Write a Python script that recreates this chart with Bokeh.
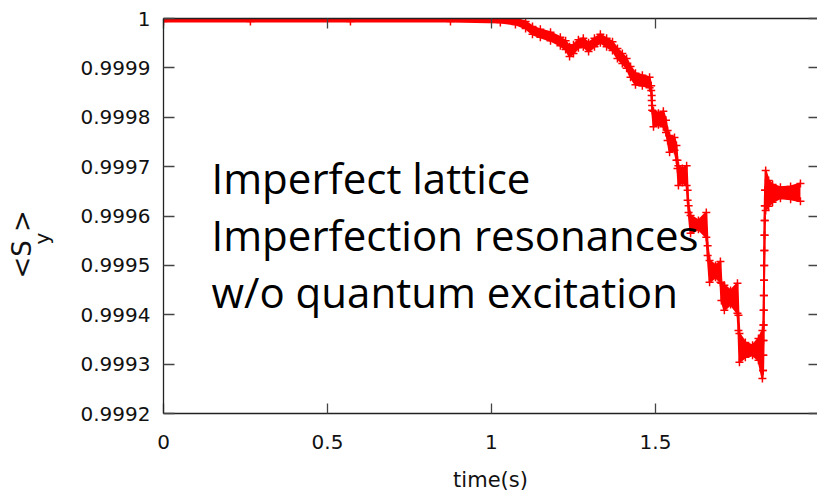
import math
from bokeh.plotting import figure
from bokeh.models import Range1d, FixedTicker, LinearAxis, Label, Title, ColumnDataSource
from bokeh.embed import file_html
from bokeh.resources import INLINE

# ---- data (time in s, <S_y> upper / lower envelope of the oscillating band)
time_s = [0.000, 0.265, 0.570, 0.875, 1.027, 1.073, 1.104, 1.125, 1.149, 1.180,
          1.210, 1.226, 1.238, 1.250, 1.265, 1.280, 1.296, 1.314, 1.332, 1.351,
          1.369, 1.384, 1.399, 1.412, 1.424, 1.439, 1.460, 1.482,
          1.4870, 1.4885, 1.4900,
          1.494, 1.509, 1.524, 1.532, 1.537, 1.543, 1.558, 1.564, 1.567, 1.570,
          1.582, 1.595, 1.598, 1.601, 1.607, 1.631, 1.655, 1.659, 1.665, 1.683,
          1.698, 1.701, 1.710, 1.729, 1.750, 1.753, 1.756, 1.774, 1.796, 1.814,
          1.826,
          1.8280, 1.8285, 1.8290, 1.8295, 1.8300, 1.8305, 1.8310, 1.8315, 1.8320,
          1.8325, 1.8330, 1.8335, 1.8340,
          1.836, 1.845, 1.857, 1.881, 1.912, 1.942]
sy_upper = [1.000004, 1.000004, 1.000004, 1.000004, 1.000002, 1.000000, 0.999994, 0.999984, 0.999978, 0.999972,
            0.999962, 0.999955, 0.999943, 0.999947, 0.999957, 0.999960, 0.999951, 0.999960, 0.999968, 0.999960,
            0.999953, 0.999939, 0.999929, 0.999919, 0.999903, 0.999889, 0.999885, 0.999881,
            0.999864, 0.999844, 0.999824,
            0.999812, 0.999808, 0.999812, 0.999794, 0.999773, 0.999763, 0.999759, 0.999743, 0.999713, 0.999702,
            0.999696, 0.999702, 0.999652, 0.999621, 0.999601, 0.999591, 0.999607, 0.999540, 0.999510, 0.999500,
            0.999508, 0.999464, 0.999460, 0.999449, 0.999464, 0.999399, 0.999362, 0.999344, 0.999338, 0.999352,
            0.999368,
            0.999287, 0.999318, 0.999348, 0.999379, 0.999409, 0.999439, 0.999470, 0.999500, 0.999530,
            0.999561, 0.999591, 0.999621, 0.999652,
            0.999692, 0.999672, 0.999664, 0.999658, 0.999660, 0.999666]
sy_lower = [0.999994, 0.999994, 0.999994, 0.999994, 0.999992, 0.999988, 0.999980, 0.999968, 0.999962, 0.999955,
            0.999945, 0.999937, 0.999923, 0.999929, 0.999941, 0.999943, 0.999933, 0.999943, 0.999951, 0.999943,
            0.999935, 0.999919, 0.999909, 0.999899, 0.999881, 0.999866, 0.999864, 0.999860,
            0.999854, 0.999834, 0.999814,
            0.999781, 0.999785, 0.999781, 0.999769, 0.999753, 0.999729, 0.999733, 0.999713, 0.999696, 0.999662,
            0.999668, 0.999662, 0.999632, 0.999607, 0.999565, 0.999573, 0.999557, 0.999520, 0.999466, 0.999476,
            0.999466, 0.999429, 0.999409, 0.999421, 0.999403, 0.999368, 0.999304, 0.999314, 0.999318, 0.999308,
            0.999271,
            0.999287, 0.999318, 0.999348, 0.999379, 0.999409, 0.999439, 0.999470, 0.999500, 0.999530,
            0.999561, 0.999591, 0.999621, 0.999652,
            0.999611, 0.999620, 0.999628, 0.999636, 0.999634, 0.999630]

x_ticks = [0, 0.5, 1, 1.5]
x_tick_labels = ["0", "0.5", "1", "1.5"]
y_ticks = [0.9992, 0.9993, 0.9994, 0.9995, 0.9996, 0.9997, 0.9998, 0.9999, 1.0]
y_tick_labels = ["0.9992", "0.9993", "0.9994", "0.9995", "0.9996", "0.9997", "0.9998", "0.9999", "1"]
x_title = "time(s)"
y_title_main = "<S\u00a0>"
y_title_sub = "y"
note_lines = ["Imperfect lattice", "Imperfection resonances", "w/o quantum excitation"]

# ---- layout
W, H = 817, 495
L, T, B = 163, 18, 82
x0, x1 = 0.0, 1.994
y0, y1 = 0.9992, 1.0
fw, fh = W - L, H - T - B


def dx(px):
    return x0 + (px - L) / fw * (x1 - x0)


def dy(py):
    return y1 - (py - T) / fh * (y1 - y0)


p = figure(width=W, height=H, output_backend="svg", toolbar_location=None,
           x_range=Range1d(x0, x1), y_range=Range1d(y0, y1),
           min_border_left=L, min_border_right=0, min_border_top=T, min_border_bottom=B,
           x_axis_location=None, y_axis_location=None)
p.outline_line_color = None
p.xgrid.visible = False
p.ygrid.visible = False
p.background_fill_color = "white"
p.border_fill_color = "white"

TICK_FONT = "DejaVu Sans"
AX_COL = "#222222"


def base_axis(ax):
    ax.axis_line_color = AX_COL
    ax.axis_line_width = 1.3
    ax.major_tick_line_color = "#444444"
    ax.major_tick_line_width = 1.3
    ax.major_tick_out = 0
    ax.minor_tick_in = 0
    ax.minor_tick_out = 0
    ax.major_label_text_font = TICK_FONT
    ax.major_label_text_font_size = "20px"
    ax.major_label_text_color = "#111111"


xb = LinearAxis(ticker=FixedTicker(ticks=x_ticks),
                major_label_overrides={k: v for k, v in zip(x_ticks, x_tick_labels)})
base_axis(xb)
xb.major_tick_in = 10
xb.major_label_standoff = 21
xb.axis_label = x_title
xb.axis_label_text_font = TICK_FONT
xb.axis_label_text_font_size = "21px"
xb.axis_label_text_font_style = "normal"
xb.axis_label_text_color = "#111111"
xb.axis_label_standoff = 16
p.add_layout(xb, "below")

yl = LinearAxis(ticker=FixedTicker(ticks=y_ticks),
                major_label_overrides={k: v for k, v in zip(y_ticks, y_tick_labels)})
base_axis(yl)
yl.major_tick_in = 11
yl.major_label_standoff = 13
p.add_layout(yl, "left")

xt = LinearAxis(ticker=FixedTicker(ticks=x_ticks))
base_axis(xt)
xt.major_tick_in = 10
xt.major_label_text_font_size = "0px"
xt.major_label_standoff = 0
xt.major_label_overrides = {k: "" for k in x_ticks}
p.add_layout(xt, "above")

yr = LinearAxis(ticker=FixedTicker(ticks=y_ticks))
base_axis(yr)
yr.axis_line_color = None
yr.major_tick_in = 9
yr.major_label_text_font_size = "0px"
yr.major_label_standoff = 0
yr.major_label_overrides = {k: "" for k in y_ticks}
p.add_layout(yr, "right")

# ---- y title <S_y> built from two side titles (subscript nearer the axis)
p.add_layout(Title(text=y_title_sub, align="left", offset=169, standoff=48,
                   text_font=TICK_FONT, text_font_size="20px", text_font_style="normal",
                   text_color="#111111"), "left")
p.add_layout(Title(text=y_title_main, align="left", offset=135, standoff=-67,
                   text_font=TICK_FONT, text_font_size="26px", text_font_style="normal",
                   text_color="#111111"), "left")

# ---- data marks
src = ColumnDataSource(dict(t=time_s, hi=sy_upper, lo=sy_lower))
p.varea(x="t", y1="lo", y2="hi", source=src, fill_color="#ff0000")
p.line(x="t", y="hi", source=src, line_color="#ff0000", line_width=2)
p.line(x="t", y="lo", source=src, line_color="#ff0000", line_width=2)
p.scatter(x="t", y="hi", source=src, marker="cross", size=8, line_color="#ff0000", line_width=1.5)
p.scatter(x="t", y="lo", source=src, marker="cross", size=8, line_color="#ff0000", line_width=1.5)

# ---- annotation text block
for i, line in enumerate(note_lines):
    p.add_layout(Label(x=dx(211), y=dy(177 + 57 * i), text=line, text_align="left",
                       text_baseline="alphabetic", text_font="Open Sans", text_font_size="42px",
                       text_color="#000000"))

open("out.html", "w").write(file_html(p, INLINE))
